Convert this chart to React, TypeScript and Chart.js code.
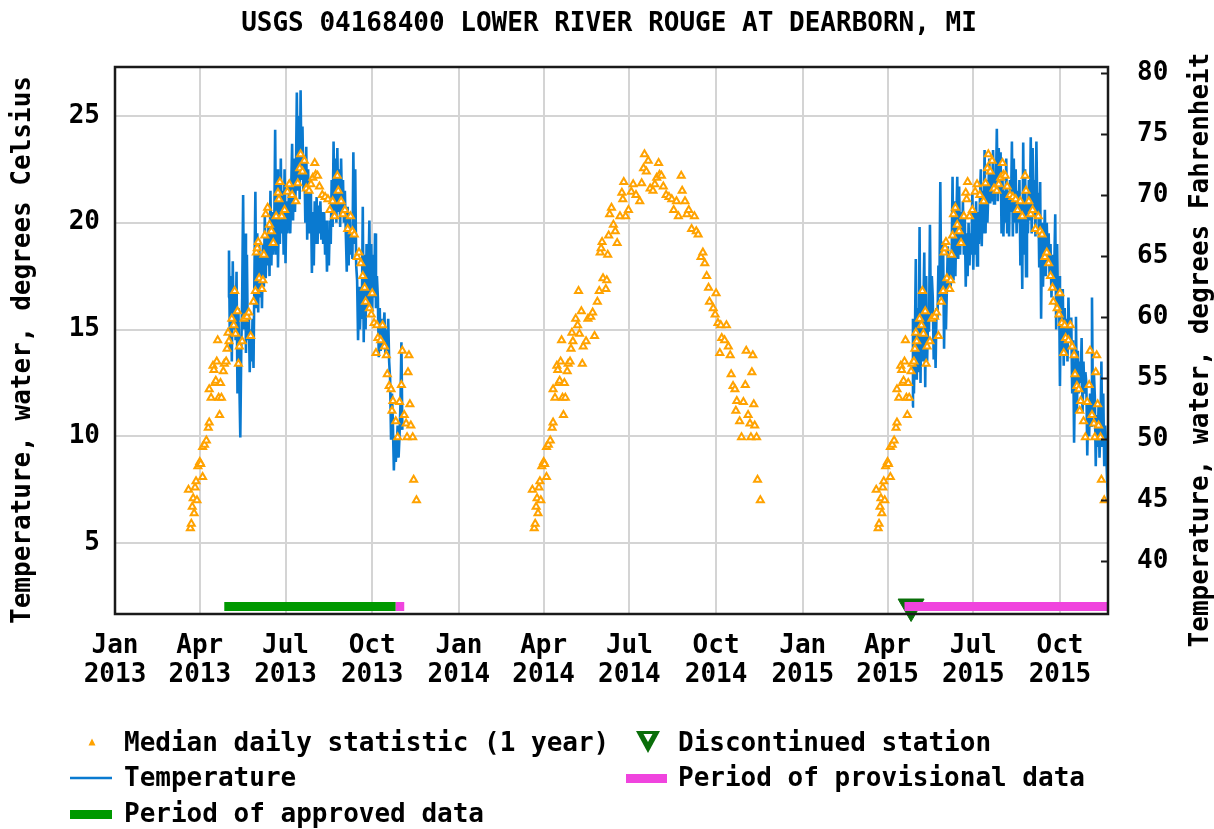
import React, { useEffect, useRef } from 'react';
import { Chart, registerables } from 'chart.js';

Chart.register(...registerables);

// ---------- data ----------
const TITLE = 'USGS 04168400 LOWER RIVER ROUGE AT DEARBORN, MI';
const Y_LEFT_TITLE = 'Temperature, water, degrees Celsius';
const Y_RIGHT_TITLE = 'Temperature, water, degrees Fahrenheit';

// x axis: days since 1 Jan 2013
const X_MIN = 0;
const X_MAX = 1054;
const TICK_DAYS = [0, 90, 181, 273, 365, 455, 546, 638, 730, 820, 911, 1003];
const TICK_MONTHS = ['Jan', 'Apr', 'Jul', 'Oct', 'Jan', 'Apr', 'Jul', 'Oct', 'Jan', 'Apr', 'Jul', 'Oct'];
const TICK_YEARS = ['2013', '2013', '2013', '2013', '2014', '2014', '2014', '2014', '2015', '2015', '2015', '2015'];

// y axes
const C_MIN = 1.68;
const C_MAX = 27.29;
const C_TICKS = [5, 10, 15, 20, 25];
const F_MIN = 35.66;
const F_MAX = 80.49;
const F_TICKS = [40, 45, 50, 55, 60, 65, 70, 75, 80];

// median daily statistic (1 year): day of year, degrees C (repeated each year)
const YEAR_OFFSETS = [0, 365, 730];
const MEDIAN_DOY = [
  78, 80, 81, 82, 83, 84, 85, 86, 87, 88, 90, 91, 93, 93, 95, 97, 99, 100, 100, 102,
  104, 105, 106, 107, 108, 109, 110, 111, 112, 113, 115, 116, 118, 119, 120, 121, 124, 126, 127, 128,
  130, 131, 132, 135, 137, 140, 142, 144, 147, 149, 150, 151, 152, 153, 156, 157, 158, 159, 160, 162,
  164, 166, 168, 171, 173, 174, 175, 177, 180, 183, 185, 188, 192, 194, 196, 197, 199, 201, 203, 206,
  208, 210, 212, 213, 215, 217, 220, 223, 226, 228, 231, 233, 236, 237, 240, 242, 244, 247, 250, 252,
  254, 257, 259, 261, 263, 265, 266, 270, 272, 273, 275, 277, 278, 279, 282, 284, 286, 288, 289, 291,
  293, 294, 295, 298, 300, 302, 304, 305, 307, 309, 310, 311, 312, 313, 314, 316, 317, 320,
];
const MEDIAN_C = [
  7.5, 5.7, 5.9, 6.7, 7.1, 6.4, 7.6, 7.9, 7.0, 8.6, 8.8, 8.7, 8.1, 9.5, 9.6, 9.8, 10.4, 10.65, 12.2, 11.8,
  13.3, 13.1, 12.5, 12.6, 13.5, 14.5, 11.8, 11.0, 12.5, 11.8, 13.05, 13.4, 13.5, 14.1, 14.85, 14.45, 15.5, 15.2, 16.8, 14.8,
  15.85, 13.4, 14.2, 14.45, 15.5, 15.6, 15.8, 14.7, 16.3, 16.8, 18.6, 18.8, 19.1, 17.4, 16.9, 17.3, 18.5, 19.4, 20.4, 20.7,
  19.9, 19.6, 19.05, 20.3, 21.4, 21.1, 21.9, 20.3, 20.6, 21.45, 21.8, 21.3, 21.0, 21.85, 22.55, 23.2, 22.4, 22.9, 21.6, 21.5,
  21.8, 22.1, 22.8, 22.25, 22.2, 21.7, 21.3, 21.2, 21.1, 20.6, 21.0, 20.3, 22.2, 21.5, 21.0, 20.4, 20.6, 19.7, 20.3, 19.6,
  19.45, 18.4, 18.6, 18.1, 17.5, 16.95, 16.3, 16.0, 15.7, 16.7, 15.3, 13.9, 15.2, 14.6, 14.5, 15.2, 14.2, 13.8, 12.9, 12.35,
  12.2, 11.2, 11.65, 10.7, 9.95, 11.6, 12.4, 14.0, 11.0, 10.6, 9.95, 13.0, 13.8, 11.5, 10.5, 9.95, 7.96, 7.0,
];

// temperature (degrees C), one reading per day from the start day
const TEMP_2013_START = 120;
const TEMP_2013 = [
  16.5, 18.7, 14.0, 17.5, 13.5, 18.2, 15.0, 17.0,
  14.5, 17.7, 12.0, 16.0, 12.5, 9.95, 14.0,
  16.5, 21.3, 15.0, 19.5, 13.9, 18.5, 14.5,
  15.8, 13.0, 15.0, 13.5, 15.5, 13.2, 17.5,
  21.45, 16.0, 19.5, 15.8, 19.2, 16.5, 18.5,
  16.0, 19.0, 17.0, 20.3, 17.4, 19.5, 18.0,
  20.0, 17.5, 21.5, 18.0, 20.5, 18.5, 19.5,
  24.35, 18.5, 22.5, 17.9, 21.0, 19.0, 23.0, 19.5,
  21.5, 18.5, 22.5, 18.1, 21.0, 19.5, 20.5,
  22.0, 19.5, 21.5, 23.7, 20.1, 23.0, 20.5, 22.0,
  26.1, 21.5, 25.0, 21.1, 26.2, 22.0, 24.5, 21.5,
  23.0, 20.0, 23.55, 19.2, 22.5, 19.5, 21.5,
  21.1, 17.65, 20.5, 18.0, 21.0, 19.0,
  21.2, 19.0, 20.8, 19.5, 21.0, 19.2, 20.5, 19.0,
  20.5, 18.5, 20.1, 17.7, 19.5, 18.0, 20.1, 19.0,
  22.0, 19.8, 23.8, 20.5, 23.0, 20.0, 23.5, 20.5,
  22.5, 19.8, 23.0, 20.5, 22.0, 20.0, 21.5, 19.5,
  17.7, 20.75, 18.0, 20.5, 18.5, 19.5, 18.3,
  23.3, 19.0, 22.5, 18.0,
  17.3, 14.5, 17.0, 15.0, 16.5, 15.5,
  20.75, 14.4, 18.5, 15.0, 19.0, 16.0, 17.5,
  20.1, 16.0, 19.0, 15.8, 18.5, 16.5, 19.5, 16.0, 17.5,
  16.5, 13.7, 16.0, 14.0, 15.5, 14.2, 15.0,
  15.8, 13.7, 15.0, 14.0, 15.5, 13.5,
  12.7, 9.9, 12.0, 10.5,
  8.4, 10.0, 8.8, 9.5,
  10.5, 9.0, 10.0,
  11.5, 14.4, 10.3,
];
const TEMP_2015_START = 846;
const TEMP_2015 = [
  11.4, 15.5, 12.0, 14.5,
  18.3, 12.65, 16.0, 13.0,
  19.8, 12.5, 17.0, 13.5, 16.0,
  18.6, 12.3, 17.5, 13.5, 15.5,
  14.9, 19.9, 15.5, 17.5,
  16.5, 13.6, 15.5, 13.2, 16.0,
  15.5, 18.0, 16.5, 21.9, 16.5, 19.0,
  18.9, 14.1, 17.5, 15.0, 17.0,
  18.9, 16.8, 18.5, 17.0, 18.0,
  22.15, 17.3, 21.0, 17.5, 20.0,
  22.15, 18.3, 21.7, 18.5, 20.5, 19.0, 21.0,
  18.5, 20.3, 17.0, 19.5, 17.5, 20.0, 18.0, 19.5, 18.5,
  21.4, 17.8, 20.5, 18.5, 21.0, 18.0, 20.5, 19.0, 21.0,
  22.5, 18.9, 21.5, 19.5, 23.4, 19.5, 22.0, 20.0, 21.5,
  23.0, 20.9, 22.5, 21.0, 23.4, 20.9, 22.0, 21.5, 24.4, 21.0, 23.5, 21.5,
  23.3, 19.5, 22.0, 19.35, 21.5, 20.0, 23.0, 19.5, 21.5, 19.35, 22.0,
  20.5, 23.8, 19.35, 23.0, 20.0, 22.5, 19.5, 21.5, 20.0,
  22.0, 18.0, 21.0, 16.9, 23.75, 18.5, 22.5, 17.5, 21.0,
  19.5, 22.0, 20.1, 24.0, 19.5, 23.5, 20.5, 22.0, 19.35, 23.8, 20.5,
  21.4, 17.9, 21.9, 15.5, 20.0, 17.0, 19.0,
  20.6, 17.5, 20.0, 18.0, 19.5, 17.5,
  19.0, 16.5, 18.5, 17.0, 18.0,
  20.4, 15.0, 19.0, 16.0, 17.5,
  12.35, 16.9, 14.0,
  16.9, 13.3, 16.0, 14.0, 15.5, 13.5, 16.5, 14.5, 15.5,
  15.5, 12.0, 14.5, 9.7, 13.0,
  15.6, 11.1, 14.0, 12.0, 13.5, 12.5,
  14.6, 11.1, 13.5, 12.0, 13.0,
  12.5, 9.1, 11.5, 10.0, 12.0, 10.5,
  16.5, 11.1, 13.0,
  11.9, 8.6, 11.0, 9.5, 11.5, 9.0, 10.5,
  13.5, 9.5, 12.0, 8.6, 10.5,
  9.5, 8.0, 7.0, 6.0,
];

// data periods (start day, end day) and station status
const PERIOD_LEVEL_C = 2.03;
const APPROVED_PERIOD = [116, 298];
const PROVISIONAL_PERIODS = [[298, 307], [838, 1057]];
const DISCONTINUED_DAY = 845;

// ---------- styles ----------
const FONT_FAMILY = '"DejaVu Sans Mono", "Liberation Mono", monospace';
const FONT_SIZE = 26;
const ORANGE = '#ffa200';
const BLUE = '#0a7ad0';
const GREEN = '#009900';
const PINK = '#f044de';
const DARK_GREEN = '#0a6e0a';
const GRID = '#d4d4d4';

function drawTriangle(ctx: CanvasRenderingContext2D, cx: number, cy: number, w: number, h: number, down: boolean) {
  ctx.beginPath();
  if (down) {
    ctx.moveTo(cx - w / 2, cy - h / 2);
    ctx.lineTo(cx + w / 2, cy - h / 2);
    ctx.lineTo(cx, cy + h / 2);
  } else {
    ctx.moveTo(cx - w / 2, cy + h / 2);
    ctx.lineTo(cx + w / 2, cy + h / 2);
    ctx.lineTo(cx, cy - h / 2);
  }
  ctx.closePath();
}

const decorPlugin = {
  id: 'decor',
  afterDatasetsDraw(chart: any) {
    const { ctx, chartArea: a } = chart;
    ctx.save();
    ctx.strokeStyle = '#1a1a1a';
    ctx.lineWidth = 2.5;
    ctx.strokeRect(a.left, a.top, a.right - a.left, a.bottom - a.top);
    const s = chart.scales.y2;
    ctx.lineWidth = 2;
    s.ticks.forEach((t: any) => {
      const y = Math.round(s.getPixelForValue(t.value)) + 0.5;
      ctx.beginPath();
      ctx.moveTo(a.right - 7, y);
      ctx.lineTo(a.right, y);
      ctx.stroke();
    });
    ctx.restore();
  },
  afterDraw(chart: any) {
    const { ctx } = chart;
    ctx.save();
    ctx.fillStyle = '#000';
    ctx.font = `bold ${FONT_SIZE}px ${FONT_FAMILY}`;
    ctx.textBaseline = 'middle';
    // title
    ctx.textAlign = 'center';
    ctx.fillText(TITLE, 609, 24);
    // axis titles
    ctx.save();
    ctx.translate(23, 350);
    ctx.rotate(-Math.PI / 2);
    ctx.fillText(Y_LEFT_TITLE, 0, 0);
    ctx.restore();
    ctx.save();
    ctx.translate(1201, 350);
    ctx.rotate(-Math.PI / 2);
    ctx.fillText(Y_RIGHT_TITLE, 0, 0);
    ctx.restore();

    // legend
    ctx.textAlign = 'left';
    const r1 = 744, r2 = 779, r3 = 815;
    ctx.fillText('Median daily statistic (1 year)', 124, r1);
    ctx.fillText('Temperature', 124, r2);
    ctx.fillText('Period of approved data', 124, r3);
    ctx.fillText('Discontinued station', 678, r1);
    ctx.fillText('Period of provisional data', 678, r2);

    // median marker
    ctx.fillStyle = ORANGE;
    drawTriangle(ctx, 92, 742, 7, 7, false);
    ctx.fill();
    // temperature line
    ctx.strokeStyle = BLUE;
    ctx.lineWidth = 2.5;
    ctx.beginPath();
    ctx.moveTo(70, r2 - 1);
    ctx.lineTo(112, r2 - 1);
    ctx.stroke();
    // approved bar
    ctx.fillStyle = GREEN;
    ctx.fillRect(70, r3 - 5, 42, 9);
    // provisional bar
    ctx.fillStyle = PINK;
    ctx.fillRect(626, r2 - 5, 41, 9);
    // discontinued marker
    ctx.fillStyle = DARK_GREEN;
    drawTriangle(ctx, 648, 742, 24, 22, true);
    ctx.fill();
    ctx.fillStyle = '#ffffff';
    drawTriangle(ctx, 648, 738, 9, 8, true);
    ctx.fill();
    ctx.restore();
  },
};

export default function App() {
  const ref = useRef<HTMLCanvasElement>(null);

  useEffect(() => {
    document.body.style.margin = '0';
    const canvas = ref.current;
    if (!canvas) return;

    const medianPoints: { x: number; y: number }[] = [];
    YEAR_OFFSETS.forEach((off) => {
      MEDIAN_DOY.forEach((d, i) => medianPoints.push({ x: d + off, y: MEDIAN_C[i] }));
    });
    const t2013 = TEMP_2013.map((v, i) => ({ x: TEMP_2013_START + i, y: v }));
    const t2015 = TEMP_2015.map((v, i) => ({ x: TEMP_2015_START + i, y: v }));

    const tickFont = { family: FONT_FAMILY, size: FONT_SIZE, weight: 'bold' as const, lineHeight: 1.1 };

    const chart = new Chart(canvas, {
      type: 'line',
      data: {
        datasets: [
          {
            label: 'Median daily statistic (1 year)',
            data: medianPoints,
            showLine: false,
            pointStyle: 'triangle',
            pointRadius: 4,
            pointBorderWidth: 2,
            pointBorderColor: ORANGE,
            pointBackgroundColor: '#ffffff',
            borderColor: ORANGE,
            backgroundColor: ORANGE,
            order: 0,
            yAxisID: 'y',
          },
          {
            label: 'Temperature',
            data: t2013,
            borderColor: BLUE,
            borderWidth: 2.6,
            pointRadius: 0,
            tension: 0,
            order: 1,
            yAxisID: 'y',
          },
          {
            label: 'Temperature 2015',
            data: t2015,
            borderColor: BLUE,
            borderWidth: 2.6,
            pointRadius: 0,
            tension: 0,
            order: 1,
            yAxisID: 'y',
          },
          ...PROVISIONAL_PERIODS.map((p) => ({
            label: 'Period of provisional data',
            data: [
              { x: p[0], y: PERIOD_LEVEL_C },
              { x: p[1], y: PERIOD_LEVEL_C },
            ],
            borderColor: PINK,
            borderWidth: 9,
            borderCapStyle: 'butt' as const,
            pointRadius: 0,
            order: 2,
            yAxisID: 'y',
          })),
          {
            label: 'Period of approved data',
            data: [
              { x: APPROVED_PERIOD[0], y: PERIOD_LEVEL_C },
              { x: APPROVED_PERIOD[1], y: PERIOD_LEVEL_C },
            ],
            borderColor: GREEN,
            borderWidth: 9,
            borderCapStyle: 'butt' as const,
            pointRadius: 0,
            order: 2,
            yAxisID: 'y',
          },
          {
            label: 'Discontinued station',
            data: [{ x: DISCONTINUED_DAY, y: PERIOD_LEVEL_C }],
            showLine: false,
            clip: false,
            pointStyle: 'triangle',
            rotation: 180,
            pointRadius: 15,
            pointBorderWidth: 1,
            pointBackgroundColor: DARK_GREEN,
            pointBorderColor: DARK_GREEN,
            order: 3,
            yAxisID: 'y',
          },
        ],
      },
      options: {
        animation: false,
        responsive: false,
        devicePixelRatio: 1,
        events: [],
        layout: { padding: { top: 67, left: 0, right: 0, bottom: 0 } },
        plugins: {
          legend: { display: false },
          title: { display: false },
          tooltip: { enabled: false },
        },
        scales: {
          x: {
            type: 'linear',
            min: X_MIN,
            max: X_MAX,
            afterBuildTicks: (s: any) => {
              s.ticks = TICK_DAYS.map((v) => ({ value: v }));
            },
            afterFit: (s: any) => {
              s.height = 215;
            },
            ticks: {
              autoSkip: false,
              maxRotation: 0,
              minRotation: 0,
              padding: 18,
              color: '#000',
              font: tickFont,
              callback: (v: any) => {
                const i = TICK_DAYS.indexOf(Number(v));
                return i >= 0 ? [TICK_MONTHS[i], TICK_YEARS[i]] : '';
              },
            },
            grid: { color: GRID, lineWidth: 2, drawTicks: false },
            border: { display: false },
          },
          y: {
            type: 'linear',
            position: 'left',
            min: C_MIN,
            max: C_MAX,
            afterBuildTicks: (s: any) => {
              s.ticks = C_TICKS.map((v) => ({ value: v }));
            },
            afterFit: (s: any) => {
              s.width = 115;
            },
            ticks: { padding: 15, color: '#000', font: tickFont },
            grid: { color: GRID, lineWidth: 2, drawTicks: false },
            border: { display: false },
          },
          y2: {
            type: 'linear',
            position: 'right',
            min: F_MIN,
            max: F_MAX,
            afterBuildTicks: (s: any) => {
              s.ticks = F_TICKS.map((v) => ({ value: v }));
            },
            afterFit: (s: any) => {
              s.width = 106;
            },
            ticks: { padding: 29, color: '#000', font: tickFont },
            grid: { drawOnChartArea: false, drawTicks: false },
            border: { display: false },
          },
        },
      },
      plugins: [decorPlugin],
    } as any);

    return () => chart.destroy();
  }, []);

  return (
    <div style={{ width: 1214, height: 829, background: '#fff' }}>
      <canvas ref={ref} width={1214} height={829} style={{ display: 'block' }} />
    </div>
  );
}
